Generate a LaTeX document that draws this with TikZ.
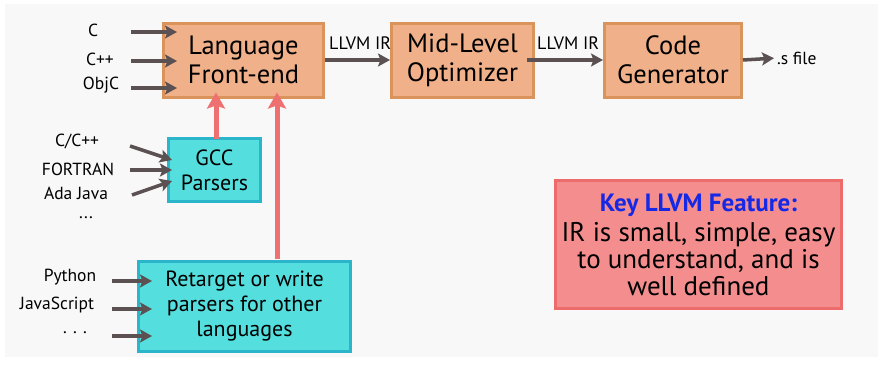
\documentclass[tikz,border=0pt]{standalone}
\usepackage{fontspec}
\setmainfont{PT Sans}
\usetikzlibrary{arrows.meta}
\definecolor{bgc}{HTML}{F8F8F8}
\definecolor{orfill}{HTML}{F0B08A}
\definecolor{ordraw}{HTML}{DB935C}
\definecolor{cyfill}{HTML}{55DEDE}
\definecolor{cydraw}{HTML}{2BB5CB}
\definecolor{rdfill}{HTML}{F48E8E}
\definecolor{rddraw}{HTML}{EC6B6B}
\definecolor{arrgray}{HTML}{5B5152}
\definecolor{arrred}{HTML}{EE7070}
\definecolor{titleblue}{HTML}{1428E6}
\tikzset{
  stagebox/.style={draw=ordraw, fill=orfill, line width=3pt, align=center,
    font=\fontsize{26.5}{29}\selectfont, inner sep=0pt},
  parsebox/.style={draw=cydraw, fill=cyfill, line width=3pt, align=center,
    font=\fontsize{22}{25}\selectfont, inner sep=0pt},
  featbox/.style={draw=rddraw, fill=rdfill, line width=3pt, align=center,
    font=\fontsize{27}{27}\selectfont, inner sep=0pt},
  lab/.style={font=\fontsize{17.5}{20}\selectfont, inner sep=0pt},
  irlab/.style={font=\fontsize{18}{20}\selectfont, inner sep=0pt, anchor=west},
  inarrow/.style={draw=arrgray, line width=3.5pt,
    -{Stealth[length=12pt,width=13pt,inset=2.5pt]}},
  uparrow/.style={draw=arrred, line width=5pt,
    -{Stealth[length=16pt,width=18pt,inset=3pt]}},
}
\begin{document}
\begin{tikzpicture}[x=1pt,y=-1pt]
\useasboundingbox (0,0) rectangle (883,364);
\fill[white] (0,0) rectangle (883,364);
\fill[bgc] (5,4) rectangle (878,357);

% main pipeline
\node[stagebox, minimum width=160pt, minimum height=74pt] (lang) at (243.5,60) {Language\\Front-end};
\node[stagebox, minimum width=142pt, minimum height=74pt] (mid) at (462.5,60) {Mid-Level\\Optimizer};
\node[stagebox, minimum width=137pt, minimum height=74pt] (cg) at (673,60) {Code\\Generator};

\node[irlab] (ir1) at (329,43) {LLVM IR};
\node[irlab] (ir2) at (537,43) {LLVM IR};
\draw[inarrow] (lang.east) -- (mid.west);
\draw[inarrow] ([xshift=-8pt]mid.east) -- (cg.west);
\node[lab, anchor=west] (sfile) at (777,58) {.s file};
\draw[inarrow, shorten >=3pt] (cg.east) -- (sfile.west);

% front-end inputs
\node[lab] (lC) at (93,30) {C};
\node[lab] (lCpp) at (100,59) {C++};
\node[lab] (lObjC) at (101,85) {ObjC};
\coordinate (tC) at (131,32);
\coordinate (tCpp) at (131,61);
\coordinate (tObjC) at (131,88);
\draw[inarrow, shorten >=-15pt] (tC) -- (tC -| lang.west);
\draw[inarrow, shorten >=-15pt] (tCpp) -- (tCpp -| lang.west);
\draw[inarrow, shorten >=-15pt] (tObjC) -- (tObjC -| lang.west);

% GCC parsers
\node[parsebox, minimum width=92pt, minimum height=63pt] (gcc) at (214.5,170) {GCC\\Parsers};
\node[lab] (lcc) at (77,141) {C/C++};
\node[lab] (lfort) at (78,169) {FORTRAN};
\node[lab] (lada) at (76,193) {Ada Java};
\node[lab] (ldots1) at (86,218) {...};
\coordinate (tcc) at (130,146);
\coordinate (tfort) at (130,170);
\coordinate (tada) at (132,195);
\coordinate (hcc) at (172,160);
\coordinate (hfort) at (172,170);
\coordinate (hada) at (172,181);
\draw[inarrow] (tcc) -- (hcc);
\draw[inarrow] (tfort) -- (hfort);
\draw[inarrow] (tada) -- (hada);

% retarget
\node[parsebox, minimum width=212pt, minimum height=90pt] (ret) at (244.5,306.5) {Retarget or write\\parsers for other\\languages};
\node[lab] (lpy) at (70,277) {Python};
\node[lab] (ljs) at (57,305) {JavaScript};
\node[lab] (ldots2) at (75,333) {. . .};
\coordinate (tpy) at (112,281);
\coordinate (tjs) at (112,309);
\coordinate (tdots) at (112,336);
\draw[inarrow, shorten >=-15pt] (tpy) -- (tpy -| ret.west);
\draw[inarrow, shorten >=-15pt] (tjs) -- (tjs -| ret.west);
\draw[inarrow, shorten >=-15pt] (tdots) -- (tdots -| ret.west);

% red upward arrows
\coordinate (r1) at (216,139);
\coordinate (r2) at (277,259);
\draw[uparrow, shorten >=-6pt] (r1) -- (r1 |- lang.south);
\draw[uparrow, shorten >=-6pt] (r2) -- (r2 |- lang.south);

% feature box
\node[featbox, minimum width=286pt, minimum height=128pt] (feat) at (698.5,244.5)
  {{\color{titleblue}\fontsize{25}{27}\selectfont\bfseries Key LLVM Feature:}\\[3pt]IR is small, simple, easy\\to understand, and is\\well defined};
\end{tikzpicture}
\end{document}
